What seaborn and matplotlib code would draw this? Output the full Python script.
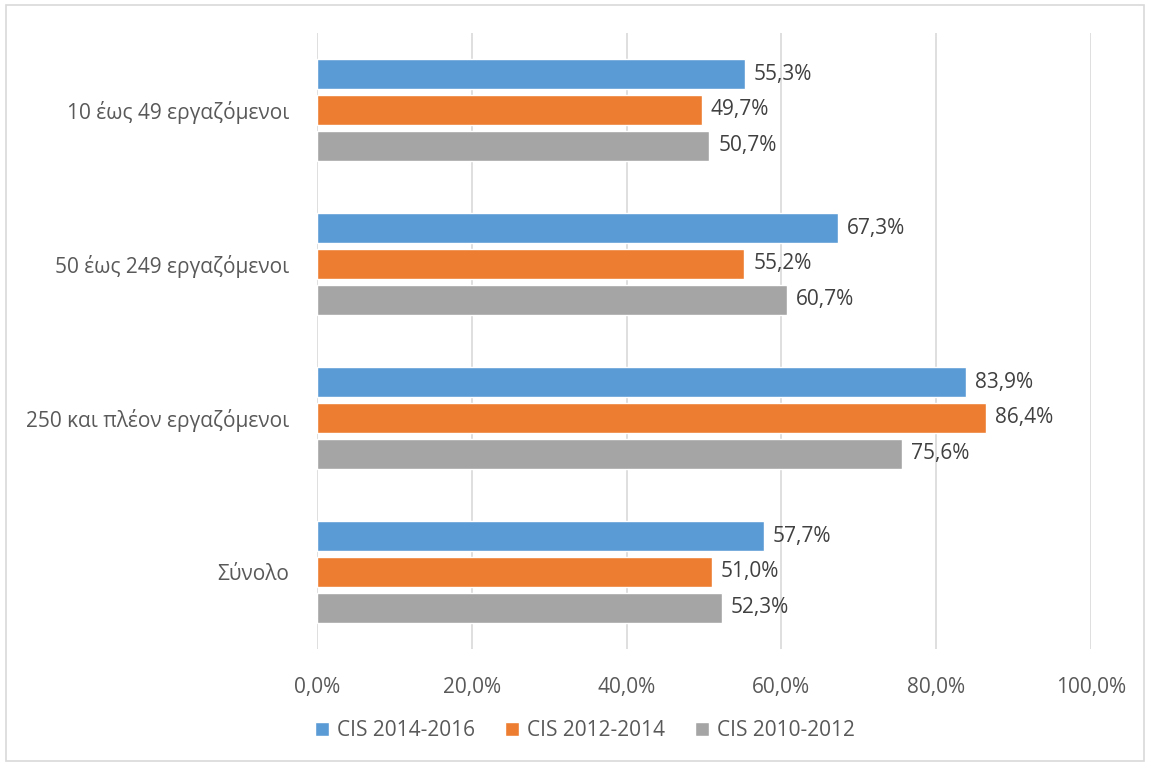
import matplotlib
matplotlib.use("Agg")
import matplotlib.pyplot as plt
import seaborn as sns
import pandas as pd
from matplotlib.patches import Rectangle

categories = ["10 έως 49 εργαζόμενοι", "50 έως 249 εργαζόμενοι",
              "250 και πλέον εργαζόμενοι", "Σύνολο"]
series = ["CIS 2014-2016", "CIS 2012-2014", "CIS 2010-2012"]
cis_2014_2016 = [55.3, 67.3, 83.9, 57.7]
cis_2012_2014 = [49.7, 55.2, 86.4, 51.0]
cis_2010_2012 = [50.7, 60.7, 75.6, 52.3]
x_ticks = [0, 20, 40, 60, 80, 100]
colors = ["#5B9BD5", "#ED7D31", "#A5A5A5"]

rows = []
for s, vals in zip(series, [cis_2014_2016, cis_2012_2014, cis_2010_2012]):
    for c, v in zip(categories, vals):
        rows.append({"cat": c, "series": s, "value": v})
df = pd.DataFrame(rows)

sns.set_theme(style="white")
plt.rcParams["font.family"] = ["Open Sans", "DejaVu Sans"]
text_color = "#595959"
fs = 15

fig = plt.figure(figsize=(11.5, 7.65), dpi=100)
ax = fig.add_axes([317/1150, 1-649/765, (1091-317)/1150, (649-33)/765])

sns.barplot(data=df, y="cat", x="value", hue="series", order=categories,
            hue_order=series, palette=colors, orient="h", width=0.7, gap=0.16,
            ax=ax, saturation=1, legend=True)

ax.set_xlim(0, 100)
ax.set_ylim(3.5, -0.5)
ax.set_xticks(x_ticks)
ax.set_xticklabels([f"{t:.1f}%".replace(".", ",") for t in x_ticks],
                   fontsize=fs, color=text_color)
ax.tick_params(axis="x", length=0, pad=20)
ax.tick_params(axis="y", length=0, pad=20, labelsize=fs, labelcolor=text_color)
ax.set_xlabel("")
ax.set_ylabel("")
ax.grid(axis="x", color="#D9D9D9", linewidth=1.2)
ax.set_axisbelow(True)
for sp in ax.spines.values():
    sp.set_visible(False)

for cont, vals in zip(ax.containers, [cis_2014_2016, cis_2012_2014, cis_2010_2012]):
    ax.bar_label(cont, labels=[f"{v:.1f}%".replace(".", ",") for v in vals],
                 padding=6.5, fontsize=fs, color="#404040")

handles, labels = ax.get_legend_handles_labels()
if ax.legend_:
    ax.legend_.remove()
fig.legend(handles, labels, loc="center", bbox_to_anchor=(585/1150, 1-731/765),
           ncol=3, frameon=False, fontsize=fs, handlelength=0.65, handleheight=0.65,
           handletextpad=0.4, columnspacing=1.45, labelcolor=text_color)

fig.patches.append(Rectangle((6/1150, 4/765), 1138/1150, 756/765, transform=fig.transFigure,
                             fill=False, edgecolor="#D9D9D9", linewidth=1.2))

fig.savefig("out.png", dpi=100)
